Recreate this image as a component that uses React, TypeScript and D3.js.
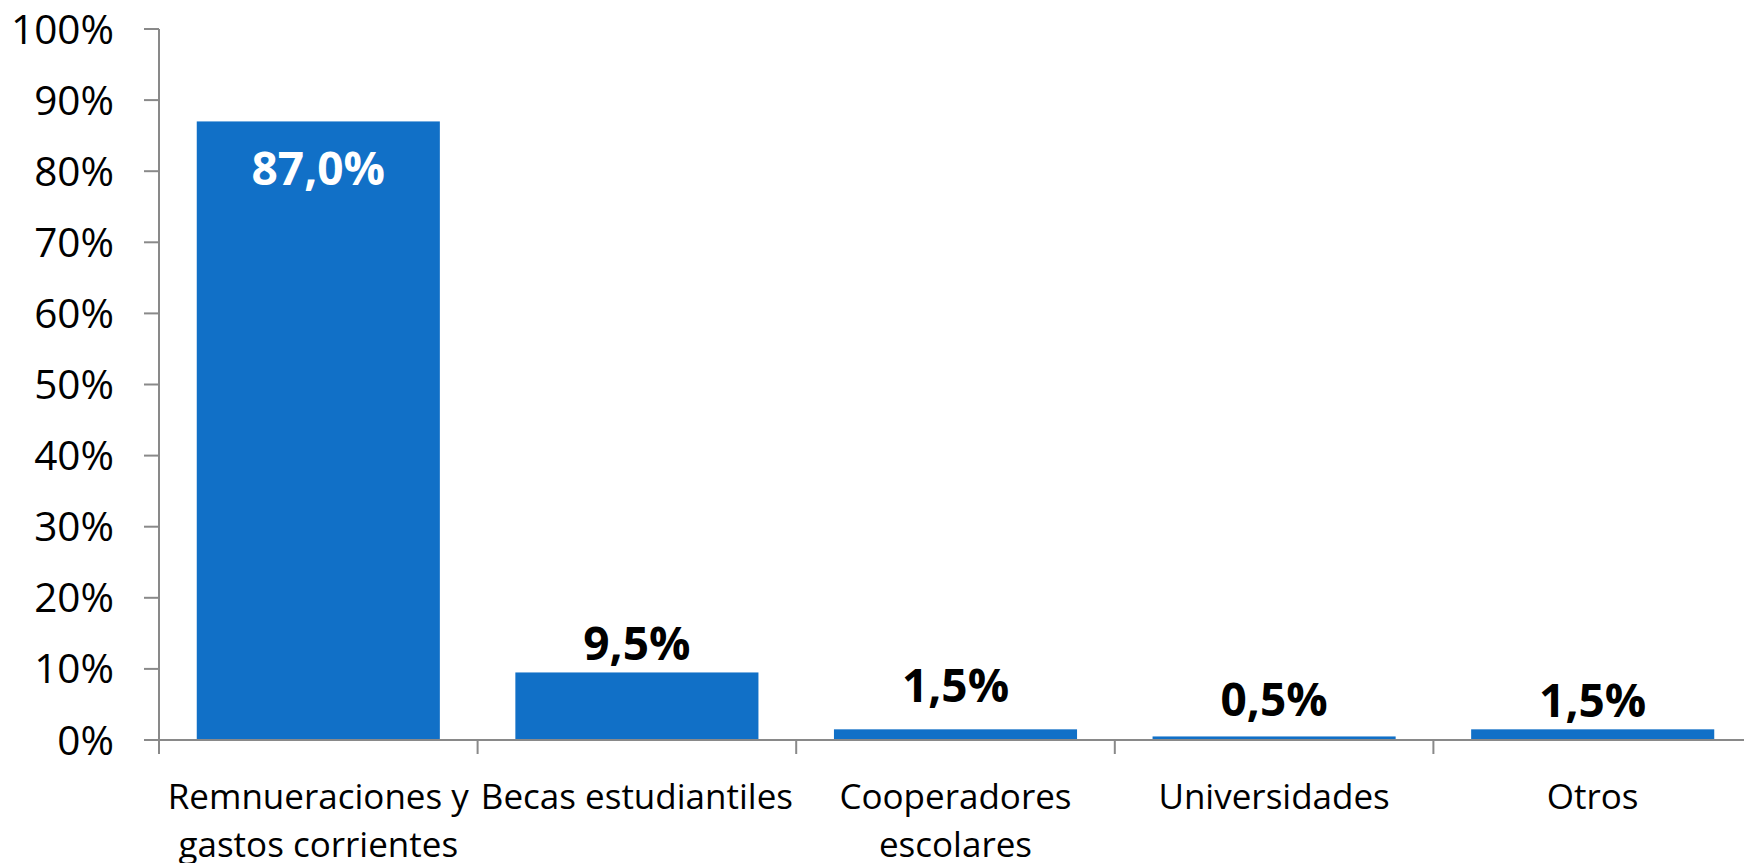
import React, { useEffect, useRef } from "react";
import * as d3 from "d3";

const categories: string[] = [
  "Remnueraciones y gastos corrientes",
  "Becas estudiantiles",
  "Cooperadores escolares",
  "Universidades",
  "Otros",
];
const values: number[] = [0.87, 0.095, 0.015, 0.005, 0.015];
const valueLabels: string[] = ["87,0%", "9,5%", "1,5%", "0,5%", "1,5%"];
const yTicks: number[] = [0, 0.1, 0.2, 0.3, 0.4, 0.5, 0.6, 0.7, 0.8, 0.9, 1.0];
// label placement relative to bar top (px), negative = above
const labelShift: number[] = [64, -12, -27, -20, -12];

const W = 1744;
const H = 863;

export default function App() {
  const ref = useRef<SVGSVGElement | null>(null);

  useEffect(() => {
    document.body.style.margin = "0";
    document.body.style.overflow = "hidden";
    const svg = d3.select(ref.current!);
    svg.selectAll("*").remove();

    const x0 = 159;
    const x1 = 1752;
    const y = d3.scaleLinear().domain([0, 1]).range([740, 29]);
    const x = d3
      .scaleBand<string>()
      .domain(categories)
      .range([x0, x1])
      .paddingInner(0.237)
      .paddingOuter(0.1185);
    const step = x.step();
    const axisColor = "#898989";
    const font = "'Open Sans', 'Noto Sans', sans-serif";

    // bars
    svg
      .append("g")
      .selectAll("rect")
      .data(categories)
      .join("rect")
      .attr("x", (d) => x(d)!)
      .attr("width", x.bandwidth())
      .attr("y", (_, i) => y(values[i]))
      .attr("height", (_, i) => y(0) - y(values[i]))
      .attr("fill", "#1170C7");

    // y axis
    const gy = svg.append("g");
    gy.append("line")
      .attr("x1", x0)
      .attr("x2", x0)
      .attr("y1", y(1))
      .attr("y2", y(0))
      .attr("stroke", axisColor)
      .attr("stroke-width", 2);
    gy.selectAll("line.tick")
      .data(yTicks)
      .join("line")
      .attr("class", "tick")
      .attr("x1", x0 - 15)
      .attr("x2", x0)
      .attr("y1", (d) => y(d))
      .attr("y2", (d) => y(d))
      .attr("stroke", axisColor)
      .attr("stroke-width", 2);
    gy.selectAll("text")
      .data(yTicks)
      .join("text")
      .attr("x", 114)
      .attr("y", (d) => y(d))
      .attr("dy", "0.36em")
      .attr("text-anchor", "end")
      .attr("font-family", font)
      .attr("font-size", 40.5)
      .attr("fill", "#000")
      .text((d) => `${Math.round(d * 100)}%`);

    // x axis
    const gx = svg.append("g");
    gx.append("line")
      .attr("x1", x0)
      .attr("x2", W)
      .attr("y1", y(0))
      .attr("y2", y(0))
      .attr("stroke", axisColor)
      .attr("stroke-width", 2);
    const bounds = d3.range(categories.length + 1).map((i) => x0 + i * step);
    gx.selectAll("line.tick")
      .data(bounds)
      .join("line")
      .attr("class", "tick")
      .attr("x1", (d) => d)
      .attr("x2", (d) => d)
      .attr("y1", y(0))
      .attr("y2", y(0) + 14)
      .attr("stroke", axisColor)
      .attr("stroke-width", 2);

    // category labels with wrapping
    const canvas = document.createElement("canvas");
    const ctx = canvas.getContext("2d")!;
    const catSize = 35;
    ctx.font = `${catSize}px 'Open Sans'`;
    const wrap = (s: string, maxW: number) => {
      const words = s.split(" ");
      const lines: string[] = [];
      let cur = "";
      for (const w of words) {
        const t = cur ? cur + " " + w : w;
        if (ctx.measureText(t).width > maxW && cur) {
          lines.push(cur);
          cur = w;
        } else cur = t;
      }
      if (cur) lines.push(cur);
      return lines;
    };
    categories.forEach((c) => {
      const cx = x(c)! + x.bandwidth() / 2;
      const lines = wrap(c, step + 20);
      const t = gx
        .append("text")
        .attr("text-anchor", "middle")
        .attr("font-family", font)
        .attr("font-size", catSize)
        .attr("fill", "#000");
      lines.forEach((ln, j) => {
        t.append("tspan")
          .attr("x", cx)
          .attr("y", 809 + j * 48)
          .text(ln);
      });
    });

    // value labels
    svg
      .append("g")
      .selectAll("text")
      .data(categories)
      .join("text")
      .attr("x", (d) => x(d)! + x.bandwidth() / 2)
      .attr("y", (_, i) => y(values[i]) + labelShift[i])
      .attr("text-anchor", "middle")
      .attr("font-family", font)
      .attr("font-weight", "bold")
      .attr("font-size", 46)
      .attr("fill", (_, i) => (labelShift[i] > 0 ? "#fff" : "#000"))
      .text((_, i) => valueLabels[i]);
  }, []);

  return (
    <svg
      ref={ref}
      width={W}
      height={H}
      style={{ position: "absolute", left: 0, top: 0, display: "block", background: "#fff" }}
    />
  );
}
